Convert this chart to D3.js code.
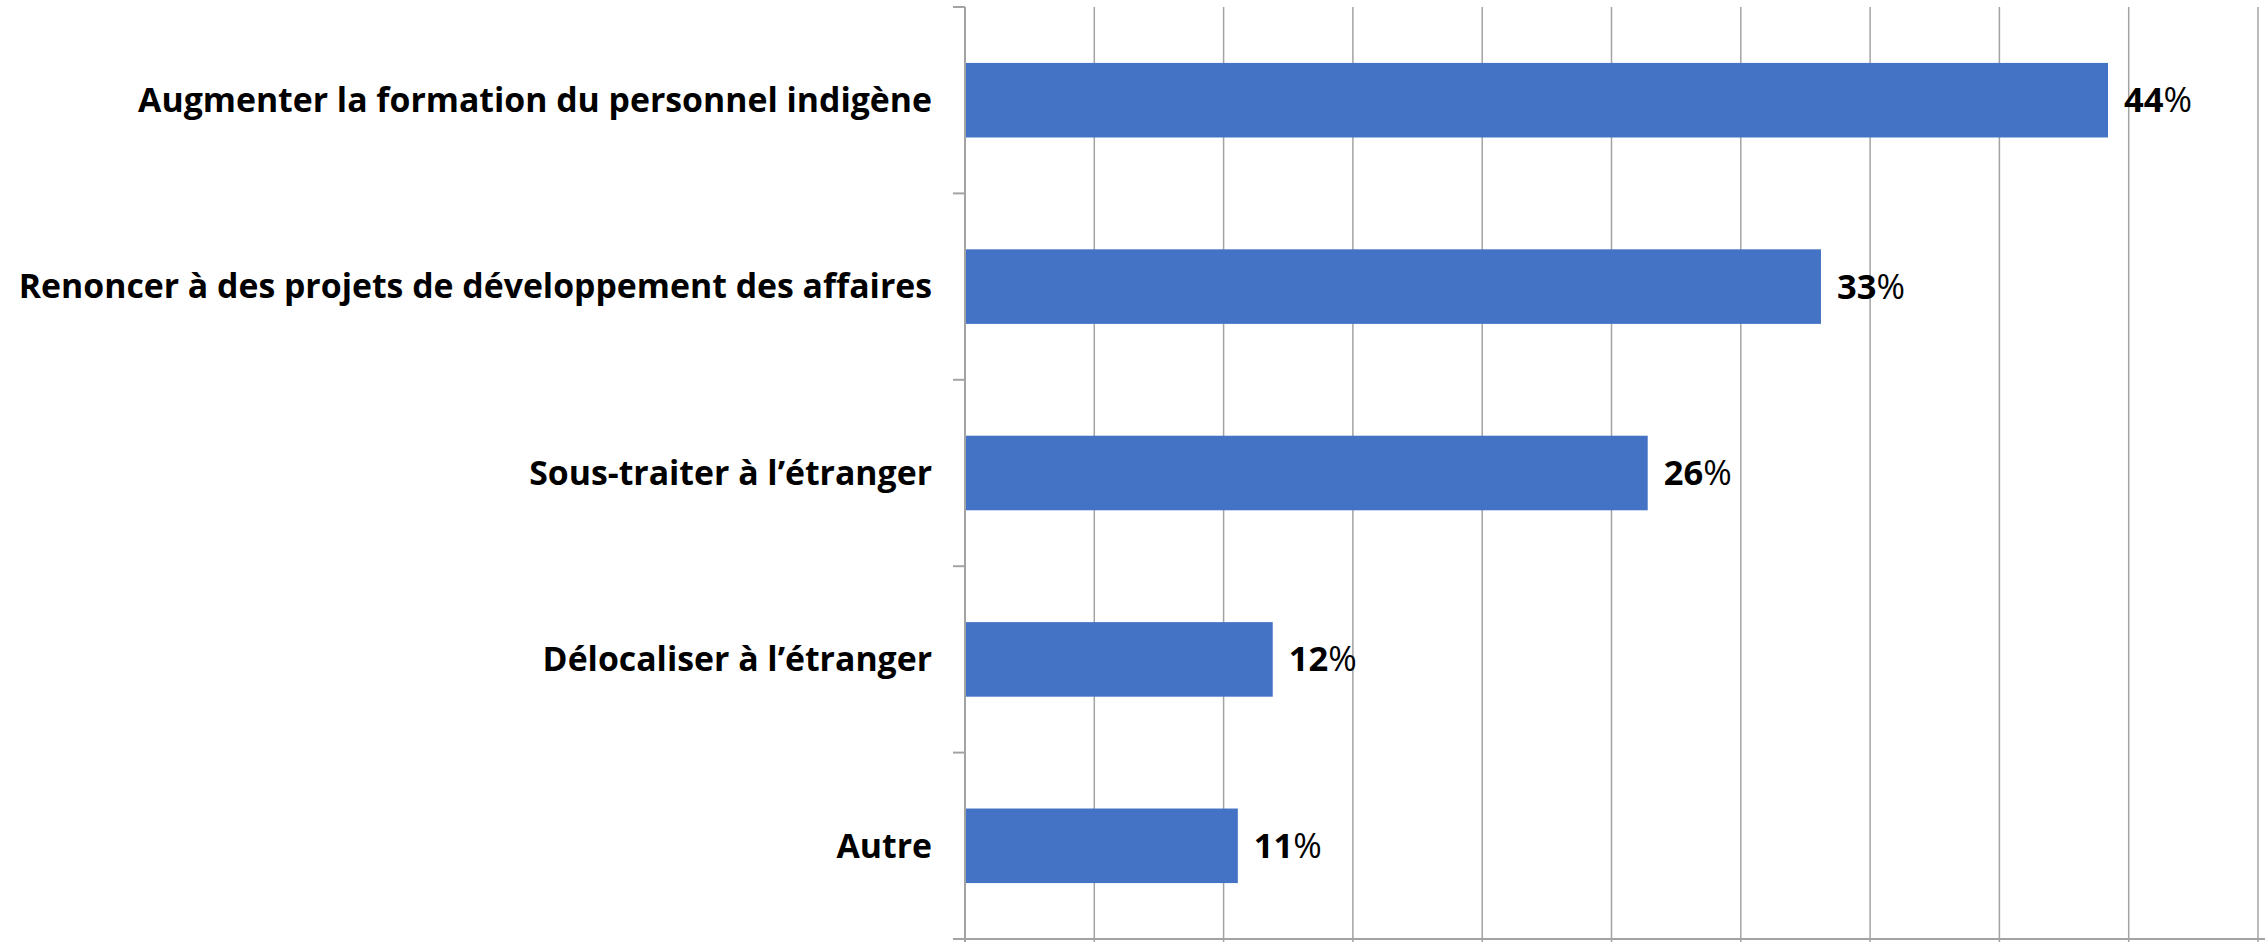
<!DOCTYPE html>
<html>
<head>
<meta charset="utf-8">
<script src="https://cdn.jsdelivr.net/npm/d3@7"></script>
<style>
  html, body { margin: 0; padding: 0; background: #fff; }
  svg { display: block; }
  text { font-family: "Open Sans", "Noto Sans", sans-serif; }
</style>
</head>
<body>
<svg id="chart"></svg>
<script>
const categories = [
  "Augmenter la formation du personnel indigène",
  "Renoncer à des projets de développement des affaires",
  "Sous-traiter à l’étranger",
  "Délocaliser à l’étranger",
  "Autre"
];
const values = [44.2, 33.1, 26.4, 11.9, 10.55];
const xTicks = [0, 5, 10, 15, 20, 25, 30, 35, 40, 45, 50];

const W = 2265, H = 942;
const margin = {top: 7, right: 7, bottom: 3, left: 965};

const svg = d3.select("#chart").attr("width", W).attr("height", H);

const x = d3.scaleLinear().domain([0, 50]).range([margin.left, W - margin.right]);
const y = d3.scaleBand().domain(categories)
  .range([margin.top, H - margin.bottom])
  .paddingInner(0.6).paddingOuter(0.3);

const grey = "#a3a3a3";

// vertical gridlines
svg.append("g")
  .selectAll("line")
  .data(xTicks.slice(1))
  .join("line")
  .attr("x1", d => x(d)).attr("x2", d => x(d))
  .attr("y1", margin.top).attr("y2", H)
  .attr("stroke", grey).attr("stroke-width", 1.5);

// bars
svg.append("g")
  .selectAll("rect")
  .data(values)
  .join("rect")
  .attr("x", x(0))
  .attr("y", (d, i) => y(categories[i]))
  .attr("width", d => x(d) - x(0))
  .attr("height", y.bandwidth())
  .attr("fill", "#4472c4");

// left axis, ticks at band boundaries
const yAxis = svg.append("g");
yAxis.append("line")
  .attr("x1", x(0)).attr("x2", x(0))
  .attr("y1", margin.top).attr("y2", H)
  .attr("stroke", grey).attr("stroke-width", 2);
const bounds = categories.map(c => y(c) - y.step() * 0.3).concat([H - margin.bottom]);
yAxis.selectAll("line.tick")
  .data(bounds)
  .join("line")
  .attr("class", "tick")
  .attr("x1", x(0) - 12).attr("x2", x(0))
  .attr("y1", d => d).attr("y2", d => d)
  .attr("stroke", grey).attr("stroke-width", 2);

// bottom axis
const yb = H - margin.bottom;
svg.append("line")
  .attr("x1", x(0) - 12).attr("x2", W)
  .attr("y1", yb).attr("y2", yb)
  .attr("stroke", grey).attr("stroke-width", 2);

// category labels
svg.append("g")
  .selectAll("text")
  .data(categories)
  .join("text")
  .attr("x", x(0) - 33)
  .attr("y", d => y(d) + y.bandwidth() / 2)
  .attr("dy", "0.35em")
  .attr("text-anchor", "end")
  .attr("font-size", 33.8)
  .attr("font-weight", 700)
  .attr("fill", "#000")
  .text(d => d);

// value labels: bold number, regular percent sign
const vl = svg.append("g")
  .selectAll("text")
  .data(values)
  .join("text")
  .attr("x", d => x(d) + 16)
  .attr("y", (d, i) => y(categories[i]) + y.bandwidth() / 2)
  .attr("dy", "0.35em")
  .attr("font-size", 34.5)
  .attr("fill", "#000");
vl.append("tspan").attr("font-weight", 700).text(d => d3.format(".0f")(d));
vl.append("tspan").attr("font-weight", 400).text("%");
</script>
</body>
</html>
